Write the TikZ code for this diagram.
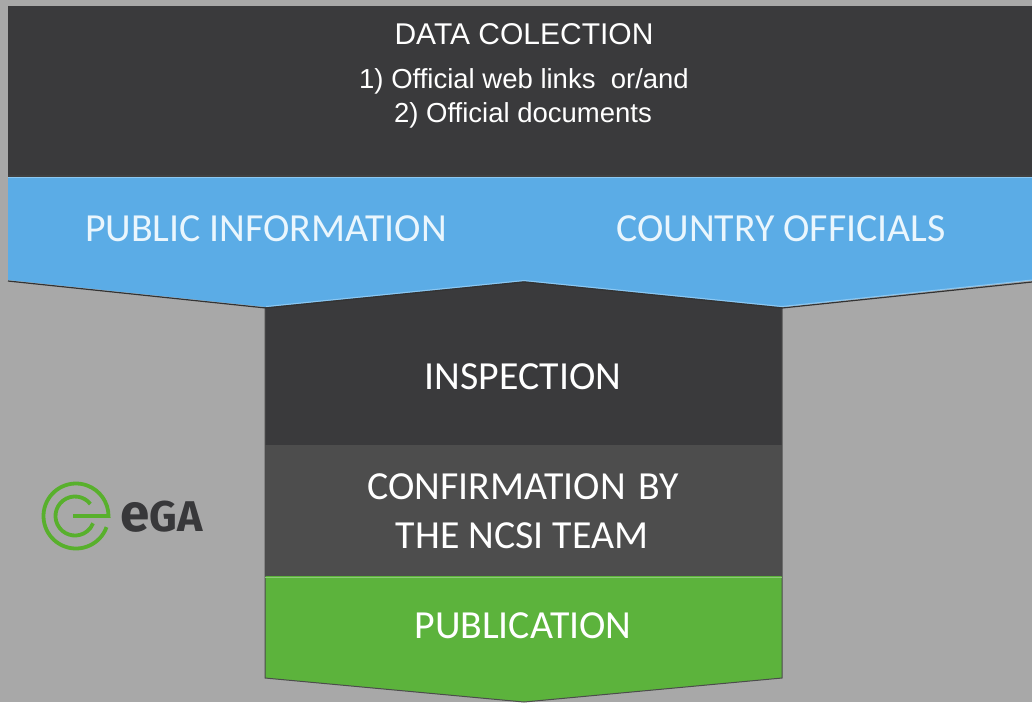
\documentclass[tikz,border=0pt]{standalone}
\usepackage{fontspec}
\setmainfont{Carlito}
\newfontfamily\arialfont{Liberation Sans}
\newfontfamily\logofont{Fira Sans}
\definecolor{panelgrey}{HTML}{A8A8A8}
\definecolor{paneldark}{HTML}{3A3A3C}
\definecolor{panelmid}{HTML}{4D4D4D}
\definecolor{bandblue}{HTML}{5BACE6}
\definecolor{bandedge}{HTML}{8CC8F2}
\definecolor{pubgreen}{HTML}{5CB33C}
\definecolor{logogreen}{HTML}{58B02C}
\definecolor{logodark}{HTML}{38383A}
\definecolor{labelblue}{HTML}{EAF6FD}
\begin{document}
\begin{tikzpicture}[x=1pt, y=-1pt,
  label/.style={text=white, anchor=base, font=\fontsize{39.8}{39.8}\selectfont, inner sep=0pt},
  bandlabel/.style={label, text=labelblue},
  datalabel/.style={text=white, anchor=base, inner sep=0pt, font=\arialfont\fontsize{27.5}{27.5}\selectfont},
  shadowline/.style={line width=1.2pt, draw=black!80}]
\useasboundingbox[fill=panelgrey] (0,0) rectangle (1032,702);
% panels
\fill[paneldark] (8,6) rectangle (1032,178);
\fill[paneldark] (265,281) rectangle (782,445);
\fill[panelmid] (265,445) rectangle (782,576);
\fill[pubgreen] (265,576) -- (782,576) -- (782,678) -- (524,702) -- (265,678) -- cycle;
\draw[line width=1pt, black!70] (265,281) -- (265,678) -- (524,702) -- (782,678) -- (782,281);
\draw[line width=1pt, pubgreen!70!white] (265,577) -- (782,577);
% blue band
\draw[shadowline] (8,281) -- (266,308) -- (524,282) -- (782,308) -- (1032,282);
\fill[bandblue] (8,177) -- (1032,177) -- (1032,280) -- (782,307) -- (524,281) -- (266,307) -- (8,280) -- cycle;
\draw[line width=1pt, bandedge] (8,177.5) -- (1032,177.5);
\draw[line width=1pt, bandedge] (266,306.5) -- (524,280.5) -- (782,306.5) -- (1032,280);
\draw[line width=1.5pt, black!75] (8,176) -- (1032,176);
% labels
\node[datalabel, font=\arialfont\fontsize{30}{30}\selectfont] (datatitle) at (524,44) {DATA COLECTION};
\node[datalabel] (dataone) at (524,88) {1) Official web links\ \ or/and};
\node[datalabel] (datatwo) at (523,122) {2) Official documents};
\node[bandlabel] (publicinfo) at (266,241) {PUBLIC INFORMATION};
\node[bandlabel] (officials) at (781,241) {COUNTRY OFFICIALS};
\node[label] (inspection) at (523,389) {INSPECTION};
\node[label] (confirmation) at (523,499) {CONFIRMATION\hspace{13pt}BY};
\node[label] (ncsiteam) at (522,548) {THE NCSI TEAM};
\node[label] (publication) at (523,638) {PUBLICATION};
% logo
\draw[logogreen, line width=3.8pt] (76,516) ++(20:32.5) arc (20:360:32.5) -- (73,516);
\draw[logogreen, line width=3.8pt] (75,516) ++(-38:19.5) arc (-38:-338:19.5);
\node[text=logodark, anchor=base west, inner sep=0pt, font=\logofont\bfseries\fontsize{43}{43}\selectfont] (egalogo) at (120,531) {{\fontsize{53}{53}\selectfont e}GA};
\end{tikzpicture}
\end{document}
